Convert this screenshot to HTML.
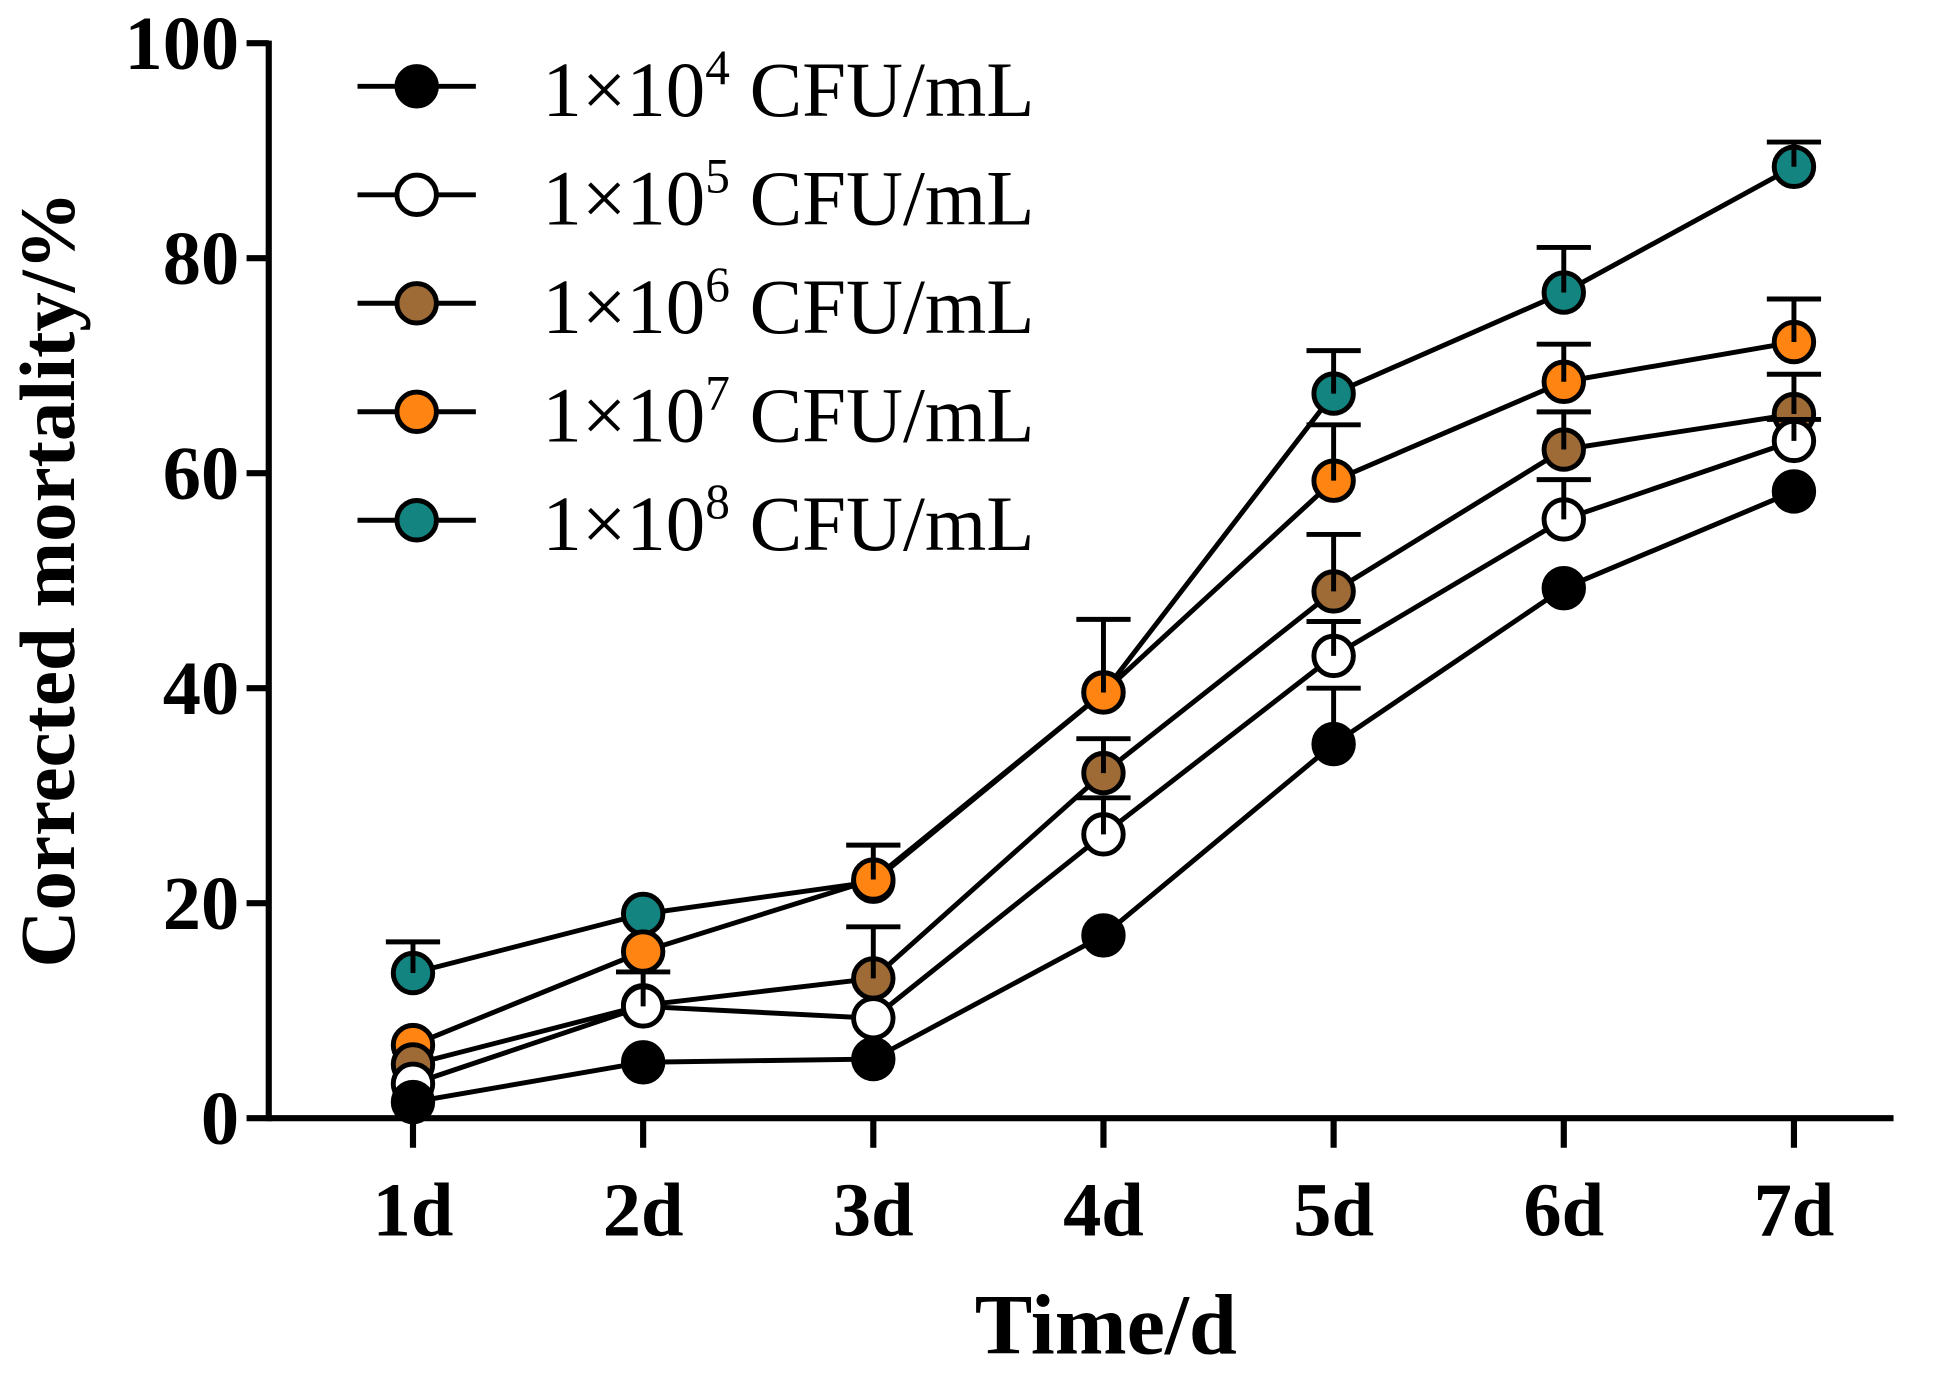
<!DOCTYPE html>
<html><head><meta charset="utf-8"><style>
html,body{margin:0;padding:0;background:#fff;}
svg{display:block;}
text{font-family:"Liberation Serif",serif;}
</style></head><body>
<svg id="chart" width="1933" height="1382" viewBox="0 0 1568 1121" preserveAspectRatio="none" xmlns="http://www.w3.org/2000/svg">
<g id="axes"></g>
<g id="plot"></g>
<g id="legend"></g>
<text transform="translate(60,470) rotate(-90)" text-anchor="middle" font-size="64" font-weight="bold">Corrected mortality/%</text>
<text x="897" y="1098" text-anchor="middle" font-size="70" font-weight="bold">Time/d</text>
</svg>
<script>
const categories = ["1d","2d","3d","4d","5d","6d","7d"];
const yTicks = [0,20,40,60,80,100];
const seriesNames = ["1e4","1e5","1e6","1e7","1e8"];
const seriesExp = ["4","5","6","7","8"];
const seriesColors = ["#000000","#ffffff","#9E6B37","#FF8411","#138480"];
const s1e4 = [1.5,5.2,5.5,17,34.8,49.3,58.3];
const s1e5 = [3.2,10.4,9.3,26.4,43,55.7,63];
const s1e6 = [5,10.5,13,32.1,49,62.2,65.5];
const s1e7 = [6.8,15.5,22.2,39.6,59.3,68.5,72.2];
const s1e8 = [13.5,19,22,39.6,67.4,76.8,88.5];
const e1e4 = [0,0,0,0,5.2,0,0];
const e1e5 = [0,3.2,0,3.4,3.2,3.7,2];
const e1e6 = [0,0,4.8,3.2,5.3,3.5,3.7];
const e1e7 = [0,0,3.2,6.8,5.2,3.5,4];
const e1e8 = [2.9,0,0,0,4,4.2,2.3];
const seriesVals = [s1e4,s1e5,s1e6,s1e7,s1e8];
const seriesErr = [e1e4,e1e5,e1e6,e1e7,e1e8];

const NS="http://www.w3.org/2000/svg";
const X0=335, DX=186.7, Y0=907, YS=8.72;
const xs=i=>X0+i*DX;
const ys=v=>Y0-v*YS;
function mk(tag,attrs,parent){const e=document.createElementNS(NS,tag);for(const k in attrs)e.setAttribute(k,attrs[k]);parent.appendChild(e);return e;}
const axes=document.getElementById('axes'),plot=document.getElementById('plot'),legend=document.getElementById('legend');

let a=mk('line',{x1:218,y1:ys(0),x2:1536,y2:ys(0),stroke:'#000','stroke-width':5},axes);


a=mk('line',{x1:218,y1:ys(0)+2.5,x2:218,y2:ys(100)-2,stroke:'#000','stroke-width':5},axes);


yTicks.forEach(t=>{
  let l=mk('line',{x1:200,y1:ys(t),x2:218,y2:ys(t),stroke:'#000','stroke-width':5},axes);
  
  
  let tx=mk('text',{x:194,y:ys(t)+21,'text-anchor':'end','font-size':62,'font-weight':'bold'},axes);
  tx.textContent=t;
  
  
});
categories.forEach((c,i)=>{
  let l=mk('line',{x1:xs(i),y1:ys(0),x2:xs(i),y2:ys(0)+24,stroke:'#000','stroke-width':5},axes);
  
  
  let tx=mk('text',{x:xs(i),y:1002,'text-anchor':'middle','font-size':62,'font-weight':'bold'},axes);
  tx.textContent=c;
  
  
});
for(let s=4;s>=0;s--){
  const v=seriesVals[s];
  const pts=v.map((y,i)=>xs(i)+','+ys(y)).join(' ');
  let p=mk('polyline',{points:pts,fill:'none',stroke:'#000','stroke-width':4},plot);
  
  
}
for(let s=4;s>=0;s--){
  const v=seriesVals[s],e=seriesErr[s];
  v.forEach((y,i)=>{
    let c=mk('circle',{cx:xs(i),cy:ys(y),r:16,fill:seriesColors[s],stroke:'#000','stroke-width':4},plot);
    
    
    if(e[i]>0){
      let g=mk('path',{d:`M${xs(i)},${ys(y)} V${ys(y+e[i])} M${xs(i)-22},${ys(y+e[i])} H${xs(i)+22}`,stroke:'#000','stroke-width':4,fill:'none'},plot);
      
      
    }
  });
}
seriesNames.forEach((n,s)=>{
  const y=70+88*s;
  let g=mk('g',{},legend);
  
  
  mk('line',{x1:290,y1:y,x2:386,y2:y,stroke:'#000','stroke-width':4},g);
  mk('circle',{cx:338,cy:y,r:16,fill:seriesColors[s],stroke:'#000','stroke-width':4},g);
  let t=mk('text',{x:440,y:y+24,'font-size':64},g);
  t.innerHTML='1×10<tspan dy="-26" font-size="40">'+seriesExp[s]+'</tspan><tspan dy="26"> CFU/mL</tspan>';
});
</script>
</body></html>
